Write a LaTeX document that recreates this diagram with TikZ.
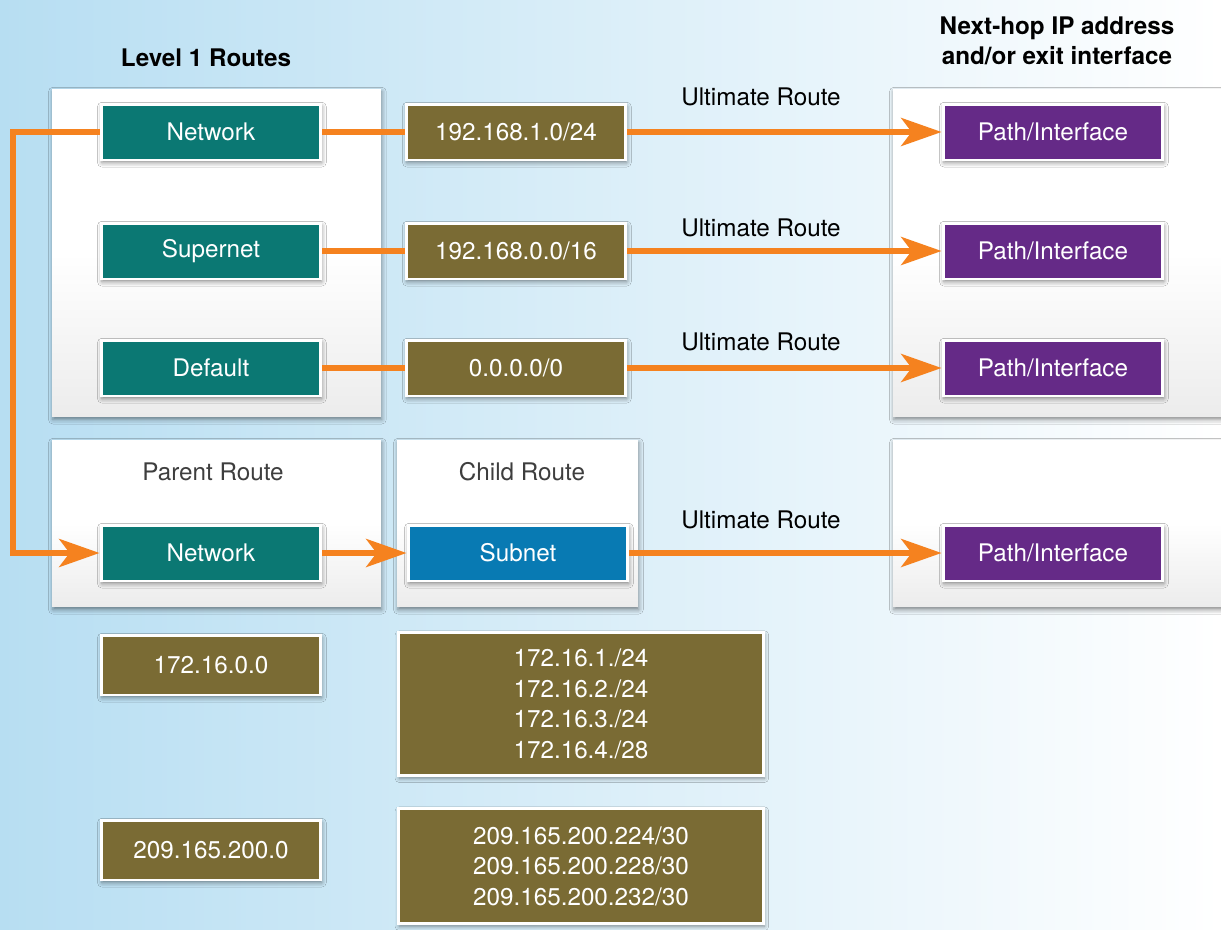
\documentclass[tikz,border=0pt]{standalone}
\usepackage{fontspec}
\setmainfont{TeX Gyre Heros}
\usetikzlibrary{arrows.meta,shadows,shadows.blur}

\definecolor{bgleft}{RGB}{183,222,242}
\definecolor{bgmid}{RGB}{210,234,248}
\definecolor{netteal}{RGB}{11,120,115}
\definecolor{ipolive}{RGB}{122,107,52}
\definecolor{subblue}{RGB}{8,122,179}
\definecolor{hoppurple}{RGB}{101,42,135}
\definecolor{routeorange}{RGB}{245,130,31}
\definecolor{panelgray}{RGB}{236,236,236}
\definecolor{labelgray}{RGB}{62,62,62}

\begin{document}
\begin{tikzpicture}[x=0.02cm, y=-0.02cm,
    font=\fontsize{13.8}{17.4}\selectfont,
    >={Stealth[length=23pt,width=16pt,inset=6pt]},
    softshadow/.style={blur shadow={shadow xshift=0.5pt, shadow yshift=-1.5pt,
                       shadow blur radius=2.5pt, shadow opacity=45}},
    panel/.style={top color=white, bottom color=panelgray, middle color=white,
                  softshadow, inner sep=0pt},
    box/.style={draw=white, line width=1.7pt, text=white, softshadow,
                minimum width=4.4cm, minimum height=1.12cm, align=center},
    netbox/.style={box, fill=netteal},
    ipbox/.style={box, fill=ipolive},
    subbox/.style={box, fill=subblue},
    hopbox/.style={box, fill=hoppurple},
    route/.style={draw=routeorange, line width=3pt},
    heading/.style={font=\fontsize{13.8}{17.4}\selectfont\bfseries, align=center},
    caption/.style={text=labelgray}]

    \shade [left color=bgleft, middle color=bgmid, right color=white]
        (0,0) rectangle (1221,930);
    \useasboundingbox (0,0) rectangle (1221,930);

%   panels
    \node [panel, minimum width=6.58cm, minimum height=6.56cm] (lvl1) at (216.5,253) {};
    \node [panel, minimum width=6.94cm, minimum height=6.56cm] (hop1) at (1066.5,253) {};
    \node [panel, minimum width=6.58cm, minimum height=3.34cm] (parent) at (216.5,523.5) {};
    \node [panel, minimum width=4.82cm, minimum height=3.34cm] (child) at (517.5,523.5) {};
    \node [panel, minimum width=6.94cm, minimum height=3.34cm] (hop2) at (1066.5,523.5) {};

    \node [heading] (lvltitle) at (206,58) {Level 1 Routes};
    \node [heading] (hoptitle) at (1057,41) {Next-hop IP address\\and/or exit interface};
    \node [caption] (partitle) at (213,472) {Parent Route};
    \node [caption] (chtitle) at (522,472) {Child Route};

    \node [netbox] (n1) at (211,132) {Network};
    \node [netbox] (sup) at (211,251) {Supernet};
    \node [netbox] (def) at (211,368) {Default};
    \node [netbox] (n2) at (211,553) {Network};

    \node [ipbox] (ip1) at (516,132) {192.168.1.0/24};
    \node [ipbox] (ip2) at (516,251) {192.168.0.0/16};
    \node [ipbox] (ip3) at (516,368) {0.0.0.0/0};
    \node [subbox] (sub) at (518,553) {Subnet};

    \node [hopbox] (p1) at (1053,132) {Path/Interface};
    \node [hopbox] (p2) at (1053,251) {Path/Interface};
    \node [hopbox] (p3) at (1053,368) {Path/Interface};
    \node [hopbox] (p4) at (1053,553) {Path/Interface};

    \node [ipbox, minimum height=1.2cm] (net172) at (211,665) {172.16.0.0};
    \node [ipbox, minimum height=1.2cm] (net209) at (211,850) {209.165.200.0};
    \node [ipbox, minimum width=7.3cm, minimum height=2.86cm] (subs172) at (581,704)
        {172.16.1./24\\172.16.2./24\\172.16.3./24\\172.16.4./28};
    \node [ipbox, minimum width=7.3cm, minimum height=2.3cm] (subs209) at (581,866)
        {209.165.200.224/30\\209.165.200.228/30\\209.165.200.232/30};

    \node (ult1) at (761,97) {Ultimate Route};
    \node (ult2) at (761,228) {Ultimate Route};
    \node (ult3) at (761,342) {Ultimate Route};
    \node (ult4) at (761,520) {Ultimate Route};

    \coordinate (bend) at (13,132);

\begin{scope}[every edge/.style={route}]
    \path [-] (n1) edge (ip1);
    \path [-] (sup) edge (ip2);
    \path [-] (def) edge (ip3);

    \path [->] (ip1) edge (p1);
    \path [->] (ip2) edge (p2);
    \path [->] (ip3) edge (p3);
    \path [->] (sub) edge (p4);
    \path [->] (n2) edge (sub);
\end{scope}
    \draw [route, ->] (n1.west) -- (bend) |- (n2.west);
\end{tikzpicture}
\end{document}
